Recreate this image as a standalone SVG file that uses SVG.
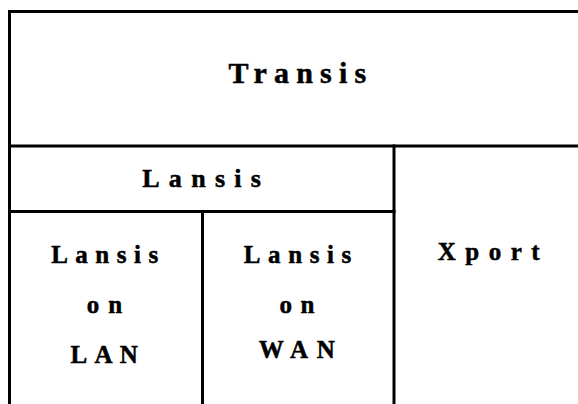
<svg xmlns="http://www.w3.org/2000/svg" width="578" height="404" viewBox="0 0 578 404">
  <style>
    .rule { stroke: #000; stroke-width: 3; fill: none; stroke-linecap: square; }
    .lbl { font-family: "Liberation Serif", "Times New Roman", serif; font-weight: bold; fill: #000; stroke: #000; stroke-width: 0.5; }
    .big { font-size: 30px; }
    .mid { font-size: 26px; }
    .std { font-size: 25px; }
  </style>
  <rect width="578" height="404" fill="#fff"/>

  <!-- layer boundaries -->
  <g id="grid">
    <path class="rule" d="M9.5 11.5 H580"/>
    <path class="rule" d="M9.5 11.5 V406"/>
    <path class="rule" d="M9.5 146 H580"/>
    <path class="rule" d="M394 146 V406"/>
    <path class="rule" d="M9.5 211.5 H394"/>
    <path class="rule" d="M202.5 211.5 V406"/>
  </g>

  <g id="transis">
    <text class="lbl big" x="228.5" y="83" letter-spacing="7.2">Transis</text>
  </g>

  <g id="lansis">
    <text class="lbl mid" x="142.2" y="186.7" letter-spacing="9.3">Lansis</text>
  </g>

  <g id="lansis-lan">
    <text class="lbl std" x="51.2" y="263.3" letter-spacing="7.5">Lansis</text>
    <text class="lbl std" x="86.7" y="313.3" letter-spacing="9">on</text>
    <text class="lbl std" x="70.5" y="363.3" letter-spacing="7.3">LAN</text>
  </g>

  <g id="lansis-wan">
    <text class="lbl std" x="243.8" y="263.3" letter-spacing="7.6">Lansis</text>
    <text class="lbl std" x="279.4" y="313.3" letter-spacing="8.6">on</text>
    <text class="lbl std" x="258.8" y="358.3" letter-spacing="8.85">WAN</text>
  </g>

  <g id="xport">
    <text class="lbl std" x="437.8" y="260" letter-spacing="9.5">Xport</text>
  </g>
</svg>
